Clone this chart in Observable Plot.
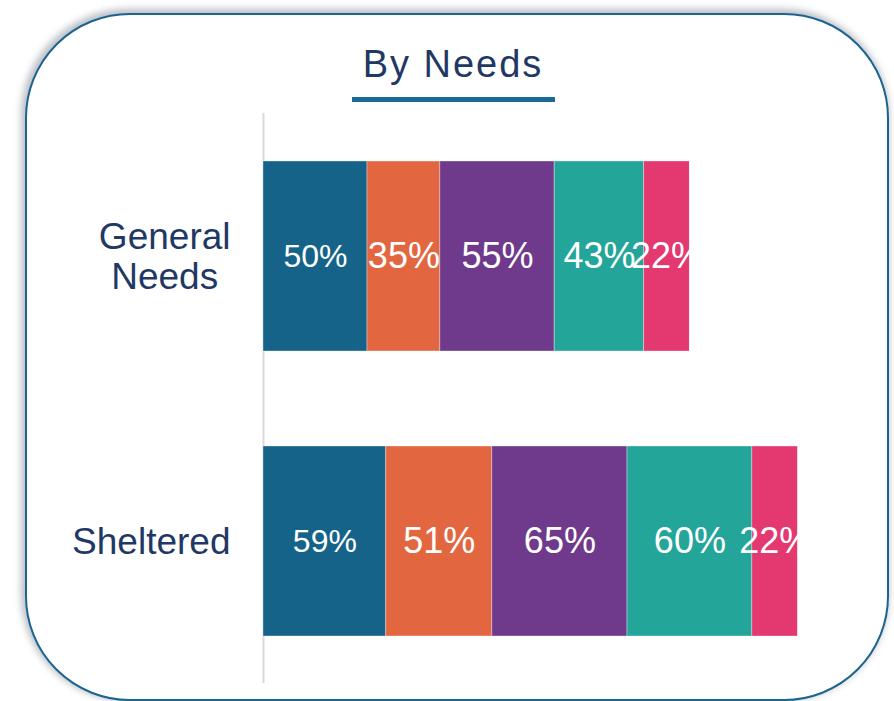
<!DOCTYPE html>
<html>
<head>
<meta charset="utf-8">
<script src="https://cdn.jsdelivr.net/npm/d3@7"></script>
<script src="https://cdn.jsdelivr.net/npm/@observablehq/plot@0.6"></script>
<style>
  html, body { margin: 0; padding: 0; background: #fff; width: 894px; height: 701px; overflow: hidden; }
  #box { position: absolute; left: 25px; top: 13px; width: 864px; height: 688px; box-sizing: border-box;
         border: 2.5px solid #1b6490; border-radius: 105px; box-shadow: -2px -2px 7px 2px rgba(60,70,90,0.35); background: #fff; }
  #title { position: absolute; left: 0; width: 906px; top: 45px; text-align: center; font-family: "Liberation Sans", Arial, sans-serif;
           font-size: 38px; line-height: 38px; letter-spacing: 2px; color: #1F3864; }
  #underline { position: absolute; left: 352px; top: 97px; width: 203px; height: 5px; background: #1a6a96; }
  #chart { position: absolute; left: 0; top: 0; }
</style>
</head>
<body>
<div id="box"></div>
<div id="chart"></div>
<div id="title">By Needs</div>
<div id="underline"></div>
<script>
const categories = ["General Needs", "Sheltered"];
const series = ["S1", "S2", "S3", "S4", "S5"];
const generalNeeds = [50, 35, 55, 43, 22];
const sheltered = [59, 51, 65, 60, 22];
const colors = ["#156389", "#E26740", "#6F3A8C", "#23A699", "#E33870"];

const rows = [];
[generalNeeds, sheltered].forEach((vals, ci) => {
  vals.forEach((v, si) => rows.push({cat: categories[ci], series: series[si], value: v}));
});
const totals = categories.map((c, ci) => ({cat: c, total: d3.sum([generalNeeds, sheltered][ci])}));

const plot = Plot.plot({
  width: 894,
  height: 701,
  marginLeft: 263,
  marginRight: 7,
  marginTop: 113,
  marginBottom: 18,
  style: {fontFamily: "'Liberation Sans', Arial, sans-serif", color: "#1F3864", background: "transparent"},
  x: {domain: [0, 300], axis: null},
  y: {domain: categories, paddingInner: 0.335, paddingOuter: 0.166, label: null},
  color: {domain: series, range: colors},
  marks: [
    Plot.ruleX([0], {stroke: "#d9d9d9", strokeWidth: 2}),
    Plot.barX(rows, Plot.stackX({x: "value", y: "cat", z: "series", fill: "series", stroke: "#ffffff", strokeOpacity: 0.35, strokeWidth: 1})),
    Plot.textX(rows, Plot.stackX({x: "value", y: "cat", z: "series", text: d => d.value + "%",
      fill: "white", fontSize: d => d.series === series[0] ? 32 : 36})),
    Plot.barX(totals, {x1: "total", x2: d => d.total + 6, y: "cat", fill: "white"}),
    Plot.axisY({tickSize: 0, tickPadding: 33, fontSize: 37, lineHeight: 1.08, fill: "#1F3864",
      tickFormat: d => d.replace(" ", "\n"), label: null})
  ]
});
document.getElementById("chart").appendChild(plot);

// center multi-line category labels within their own block (right edge kept)
plot.querySelectorAll("text").forEach(t => {
  const spans = t.querySelectorAll("tspan");
  if (spans.length > 1) {
    const w = d3.max(Array.from(spans), s => s.getComputedTextLength());
    t.setAttribute("text-anchor", "middle");
    const tr = t.getAttribute("transform") || "";
    t.setAttribute("transform", tr + ` translate(${-w / 2},0)`);
  }
});
</script>
</body>
</html>
